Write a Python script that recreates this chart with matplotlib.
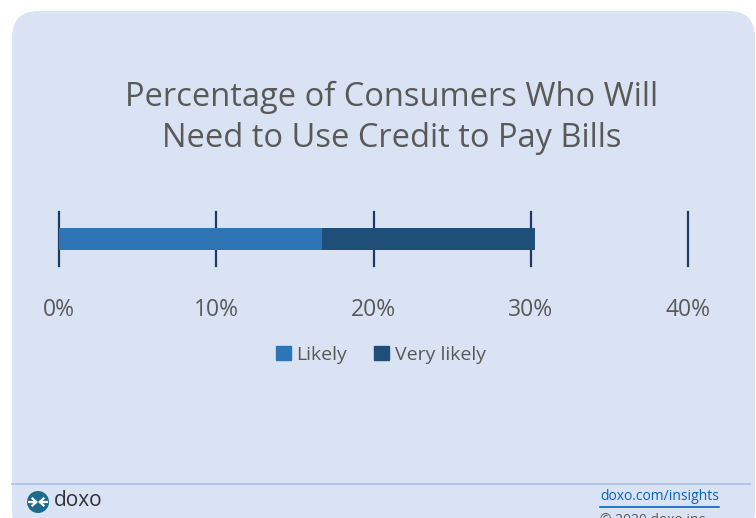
import matplotlib.pyplot as plt
from matplotlib.patches import FancyBboxPatch, Ellipse
from matplotlib.lines import Line2D

# survey shares (percent of consumers)
series = ['Likely', 'Very likely']
values = [16.7, 13.6]
colors = ['#2E75B6', '#1F4E79']
ticks = [0, 10, 20, 30, 40]
tick_labels = ['0%', '10%', '20%', '30%', '40%']

plt.rcParams['font.family'] = ['Open Sans', 'DejaVu Sans']

W, H = 756, 518
fig = plt.figure(figsize=(W / 100, H / 100), dpi=100)
fig.patch.set_facecolor('white')


def px(x, y):
    # pixel position (from top-left) -> figure fraction
    return x / W, 1 - y / H


# rounded card behind everything
card = FancyBboxPatch((12 / W, -20 / H), 743 / W, (H - 11 + 20) / H,
                      boxstyle='round,pad=0,rounding_size=0.035',
                      transform=fig.transFigure, facecolor='#DAE3F3',
                      edgecolor='none', zorder=-5, mutation_aspect=W / H)
fig.patches.append(card)

fig.text(*px(392, 118),
         'Percentage of Consumers Who Will\nNeed to Use Credit to Pay Bills',
         ha='center', va='center', fontsize=23.5, color='#595959',
         linespacing=1.3)

# axes spans the tick lines vertically (y 212..266 px)
ax = fig.add_axes([59 / W, 1 - 266 / H, (688 - 59) / W, 54 / H])
ax.set_facecolor('none')
left = 0
for name, v, c in zip(series, values, colors):
    ax.barh(0, v, left=left, height=22 / 54, color=c, label=name, zorder=2)
    left += v
ax.set_xlim(0, 40)
ax.set_ylim(-0.5, 0.5)
ax.set_xticks(ticks)
ax.set_xticklabels(tick_labels)
ax.set_yticks([])
ax.tick_params(axis='x', length=0, pad=23, labelsize=16.5, labelcolor='#595959')
ax.grid(axis='x', color='#1F3864', linewidth=1.6, zorder=1)
for gl in ax.get_xgridlines():
    gl.set_clip_on(False)
for s in ax.spines.values():
    s.set_visible(False)

handles = [plt.Rectangle((0, 0), 1, 1, color=c) for c in colors]
fig.legend(handles, series, loc='center', bbox_to_anchor=px(381, 355),
           ncol=2, frameon=False, fontsize=14, labelcolor='#595959',
           handlelength=0.75, handleheight=0.75, handletextpad=0.3,
           columnspacing=1.4)

# footer
fig.add_artist(Line2D([12 / W, 750 / W], [1 - 484 / H, 1 - 484 / H],
                      transform=fig.transFigure, color='#A9C1E8', lw=1.2))
cx, cy = 38, 502
fig.add_artist(Ellipse(px(cx, cy), 22 / W, 22 / H, transform=fig.transFigure,
                       facecolor='#1E6A8C', edgecolor='none'))
# white arrows pointing toward the centre of the logo
for sgn in (-1, 1):
    xs = [cx + sgn * 9, cx + sgn * 2]
    fig.add_artist(Line2D([x / W for x in xs], [1 - cy / H] * 2,
                          transform=fig.transFigure, color='white', lw=1.6))
    for dy in (-3.5, 3.5):
        fig.add_artist(Line2D([(cx + sgn * 5.5) / W, (cx + sgn * 2) / W],
                              [1 - (cy + dy) / H, 1 - cy / H],
                              transform=fig.transFigure, color='white', lw=1.6))
fig.text(*px(54, 501), 'doxo', ha='left', va='center', fontsize=15,
         color='#333333')
fig.text(*px(600, 497), 'doxo.com/insights', ha='left', va='center',
         fontsize=10, color='#0563C1')
fig.add_artist(Line2D([600 / W, 719 / W], [1 - 507 / H, 1 - 507 / H],
                      transform=fig.transFigure, color='#0563C1', lw=1.2))
fig.text(*px(600, 520), '© 2020 doxo inc.', ha='left', va='center',
         fontsize=10, color='#595959')

fig.savefig('out.png', dpi=100, facecolor='white')
